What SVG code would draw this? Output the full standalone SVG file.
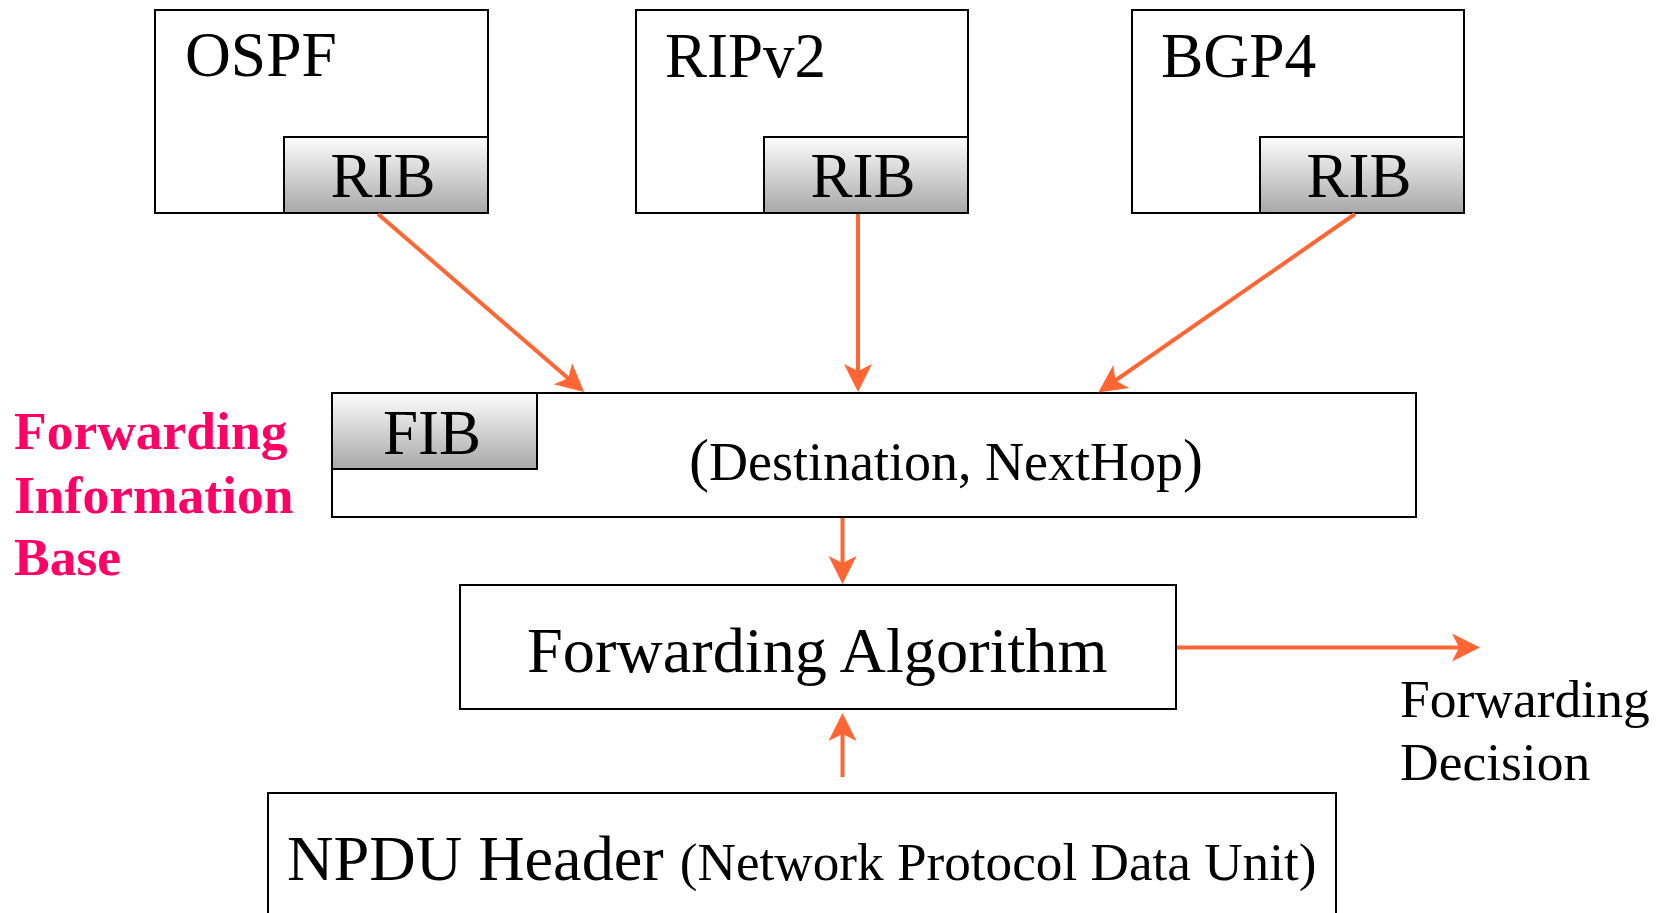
<svg xmlns="http://www.w3.org/2000/svg" width="1672" height="913" viewBox="0 0 1672 913">
<style>
  .box{fill:#ffffff;stroke:#000000;stroke-width:2}
  .rib{fill:url(#gray);stroke:#000000;stroke-width:2}
  .t{font-family:"Liberation Serif","Times New Roman",serif;fill:#000000}
  .pink{font-family:"Liberation Serif","Times New Roman",serif;font-weight:bold;fill:#FF0066;font-size:53.5px}
  .arrow{stroke:#FF6633;stroke-width:4;fill:none;marker-end:url(#ah)}
</style>
<defs>
  <linearGradient id="gray" x1="0" y1="0" x2="0" y2="1">
    <stop offset="0" stop-color="#fdfdfd"/>
    <stop offset="1" stop-color="#a8a8a8"/>
  </linearGradient>
  <marker id="ah" markerUnits="userSpaceOnUse" viewBox="-10 -16 32 32" markerWidth="32" markerHeight="32" refX="0" refY="0" orient="auto">
    <path d="M20,0 L-8,-14 L-1,0 L-8,14 Z" fill="#FF6633"/>
  </marker>
</defs>
<rect width="1672" height="913" fill="#ffffff"/>

<g id="ospf">
  <rect class="box" x="155" y="10" width="333" height="203"/>
  <text class="t" x="185" y="76" font-size="63.5">OSPF</text>
  <rect class="rib" x="284" y="137" width="204" height="76"/>
  <text class="t" x="383" y="197" font-size="63" text-anchor="middle">RIB</text>
</g>
<g id="ripv2">
  <rect class="box" x="636" y="10" width="332" height="203"/>
  <text class="t" x="665" y="77" font-size="63">RIPv2</text>
  <rect class="rib" x="764" y="137" width="204" height="76"/>
  <text class="t" x="863" y="197" font-size="63" text-anchor="middle">RIB</text>
</g>
<g id="bgp4">
  <rect class="box" x="1132" y="10" width="332" height="203"/>
  <text class="t" x="1161" y="77" font-size="63.5">BGP4</text>
  <rect class="rib" x="1260" y="137" width="204" height="76"/>
  <text class="t" x="1359" y="197" font-size="63" text-anchor="middle">RIB</text>
</g>
<g id="fib">
  <rect class="box" x="332" y="393" width="1084" height="124"/>
  <rect class="rib" x="332" y="393" width="205" height="76"/>
  <text class="t" x="432" y="454" font-size="63" text-anchor="middle">FIB</text>
  <text class="t" x="689" y="480" font-size="54"><tspan font-size="60">(</tspan>Destination, NextHop<tspan font-size="60">)</tspan></text>
</g>
<g id="fib-label">
  <text class="pink" x="14" y="449">Forwarding</text>
  <text class="pink" x="14" y="513">Information</text>
  <text class="pink" x="14" y="575">Base</text>
</g>
<g id="forwarding-algorithm">
  <rect class="box" x="460" y="585" width="716" height="124"/>
  <text class="t" x="527" y="672" font-size="64.3">Forwarding Algorithm</text>
</g>
<g id="npdu">
  <rect class="box" x="268" y="793" width="1068" height="130"/>
  <text class="t" x="287" y="880" font-size="64.3">NPDU Header <tspan font-size="53.2">(Network Protocol Data Unit)</tspan></text>
</g>
<g id="decision">
  <text class="t" x="1400" y="717" font-size="53.5">Forwarding</text>
  <text class="t" x="1400" y="780" font-size="53.5">Decision</text>
</g>
<g id="connectors">
  <line class="arrow" x1="378" y1="214" x2="569" y2="379"/>
  <line class="arrow" x1="858" y1="214" x2="858" y2="372"/>
  <line class="arrow" x1="1355" y1="214" x2="1114.7" y2="381"/>
  <line class="arrow" x1="842.5" y1="518" x2="842.5" y2="564"/>
  <line class="arrow" x1="842.5" y1="777" x2="842.5" y2="733"/>
  <line class="arrow" x1="1177" y1="647.5" x2="1460" y2="647.5"/>
</g>
</svg>
